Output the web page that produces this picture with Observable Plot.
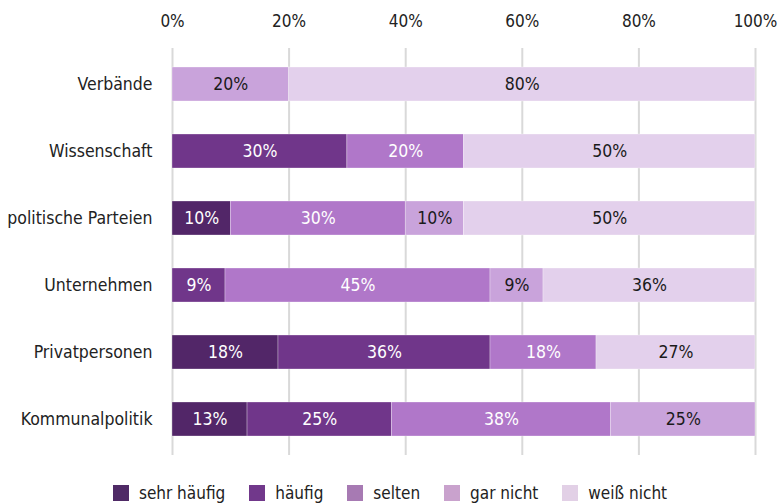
<!DOCTYPE html>
<html>
<head>
<meta charset="utf-8">
<script src="https://cdn.jsdelivr.net/npm/d3@7"></script>
<script src="https://cdn.jsdelivr.net/npm/@observablehq/plot@0.6"></script>
<style>
  html, body { margin: 0; padding: 0; background: #fff; }
  body { width: 780px; height: 504px; overflow: hidden; font-family: "DejaVu Sans Condensed", "DejaVu Sans", sans-serif; font-stretch: condensed; }
  #chart svg { display: block; }
  #legend { display: flex; justify-content: center; align-items: center; height: 34px; font-size: 17px; color: #222; }
  .item { display: flex; align-items: center; margin: 0 12px; }
  .sw { width: 16px; height: 16px; margin-right: 10px; }
</style>
</head>
<body>
<div id="chart"></div>
<div id="legend"></div>
<script>
const categories = ["Verbände", "Wissenschaft", "politische Parteien", "Unternehmen", "Privatpersonen", "Kommunalpolitik"];
const series = ["sehr häufig", "häufig", "selten", "gar nicht", "weiß nicht"];
const colors = ["#522668", "#70368a", "#b077c9", "#c9a3db", "#e3d0ec"];
const legendColors = ["#4f2a66", "#71388b", "#a77ab3", "#c9a2cd", "#e2d0e6"];
// values per series, in order of categories (percent)
const sehrHaeufig = [0, 0, 10, 0, 18, 13];
const haeufig     = [0, 30, 0, 9, 36, 25];
const selten      = [0, 20, 30, 45, 18, 38];
const garNicht    = [20, 0, 10, 9, 0, 25];
const weissNicht  = [80, 50, 50, 36, 27, 0];
const xTicks = [0, 0.2, 0.4, 0.6, 0.8, 1];

const seriesValues = [sehrHaeufig, haeufig, selten, garNicht, weissNicht];
const data = [];
categories.forEach((c, i) => {
  series.forEach((s, j) => {
    const v = seriesValues[j][i];
    if (v > 0) data.push({category: c, series: s, value: v, dark: j < 3});
  });
});

const font = '"DejaVu Sans Condensed", "DejaVu Sans", sans-serif';

const chart = Plot.plot({
  width: 780,
  height: 476,
  marginLeft: 172,
  marginRight: 25,
  marginTop: 48,
  marginBottom: 21,
  style: {fontFamily: font, fontSize: "17px", color: "#222", background: "#fff"},
  x: {domain: [0, 1]},
  y: {domain: categories, paddingInner: 0.5, paddingOuter: 0.25},
  color: {domain: series, range: colors},
  marks: [
    Plot.gridX(xTicks, {stroke: "#d9d9d9", strokeOpacity: 1, strokeWidth: 2}),
    Plot.barX(data, Plot.stackX({offset: "normalize", order: series, x: "value", y: "category", fill: "series", stroke: "#fff", strokeWidth: 0.5, strokeOpacity: 0.6})),
    Plot.text(data, Plot.stackX({offset: "normalize", order: series, x: "value", y: "category", z: "series", text: d => d.value + "%", fill: d => d.dark ? "#fff" : "#1a1a1a", fontSize: 17.5})),
    Plot.axisX(xTicks, {anchor: "top", tickSize: 0, tickPadding: 22, tickFormat: d => Math.round(d * 100) + "%", fontSize: 17, label: null}),
    Plot.axisY({tickSize: 0, tickPadding: 20, fontSize: 17.5, label: null})
  ]
});
document.getElementById("chart").appendChild(chart);

const legend = document.getElementById("legend");
series.forEach((s, j) => {
  const it = document.createElement("div");
  it.className = "item";
  const sw = document.createElement("div");
  sw.className = "sw";
  sw.style.background = legendColors[j];
  const t = document.createElement("span");
  t.textContent = s;
  it.appendChild(sw); it.appendChild(t);
  legend.appendChild(it);
});
</script>
</body>
</html>
